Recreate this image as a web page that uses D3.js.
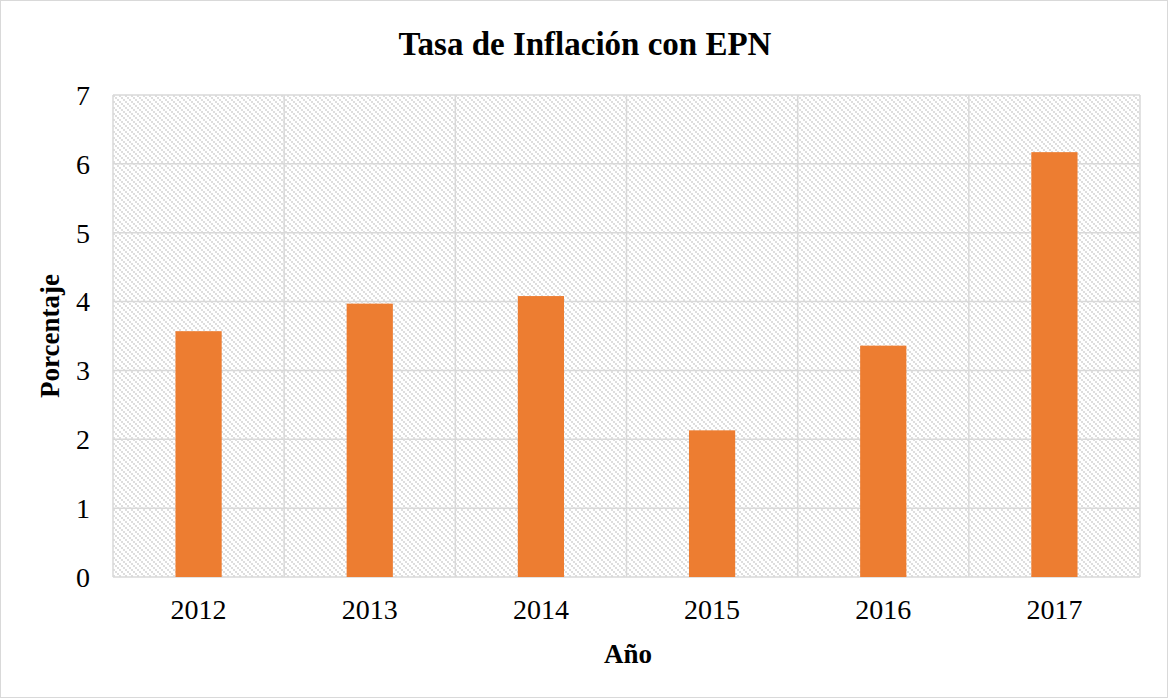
<!DOCTYPE html>
<html>
<head>
<meta charset="utf-8">
<script src="https://cdn.jsdelivr.net/npm/d3@7"></script>
<style>
  body { margin: 0; background: #fff; }
  text { font-family: "Liberation Serif", "Times New Roman", serif; fill: #000; }
</style>
</head>
<body>
<div id="chart"></div>
<script>
// chart data
const years = ["2012", "2013", "2014", "2015", "2016", "2017"];
const inflation = [3.57, 3.97, 4.08, 2.13, 3.36, 6.17];
const yTicks = [0, 1, 2, 3, 4, 5, 6, 7];

const W = 1168, H = 698;
const margin = {top: 95, right: 28, bottom: 121, left: 113};
const width = W - margin.left - margin.right,
    height = H - margin.top - margin.bottom;

const svg = d3.select("#chart")
  .append("svg")
  .attr("width", W)
  .attr("height", H);

// pixel hatch for the plot background (downward diagonal)
const defs = svg.append("defs");
const pat = defs.append("pattern")
  .attr("id", "hatch")
  .attr("patternUnits", "userSpaceOnUse")
  .attr("width", 6)
  .attr("height", 6);
pat.selectAll("rect")
  .data([0, 2, 4])
  .join("rect")
  .attr("x", d => d).attr("y", d => d)
  .attr("width", 2).attr("height", 2)
  .attr("fill", "#dedede")
  .attr("shape-rendering", "crispEdges");

// outer border
svg.append("rect")
  .attr("x", 0.5).attr("y", 0.5)
  .attr("width", W - 1).attr("height", H - 1)
  .attr("fill", "#fff")
  .attr("stroke", "#d9d9d9");

const g = svg.append("g")
  .attr("transform", `translate(${margin.left}, ${margin.top})`);

const x = d3.scaleBand()
  .domain(years)
  .range([0, width])
  .paddingInner(0.73)
  .paddingOuter(0.365);

const y = d3.scaleLinear()
  .domain([0, 7])
  .range([height, 0]);

g.append("rect")
  .attr("width", width)
  .attr("height", height)
  .attr("fill", "url(#hatch)");

// horizontal grid
g.append("g")
  .selectAll("line")
  .data(yTicks)
  .join("line")
  .attr("x1", 0).attr("x2", width)
  .attr("y1", d => y(d)).attr("y2", d => y(d))
  .attr("stroke", "#d9d9d9")
  .attr("stroke-width", 1.5);

// vertical grid at category boundaries
const step = x.step();
g.append("g")
  .selectAll("line")
  .data(d3.range(years.length + 1))
  .join("line")
  .attr("x1", i => i * step).attr("x2", i => i * step)
  .attr("y1", 0).attr("y2", height)
  .attr("stroke", "#d9d9d9")
  .attr("stroke-width", 1.5);

// bars
g.append("g")
  .selectAll("rect")
  .data(years)
  .join("rect")
  .attr("x", d => x(d))
  .attr("width", x.bandwidth())
  .attr("y", (d, i) => y(inflation[i]))
  .attr("height", (d, i) => height - y(inflation[i]))
  .attr("fill", "#ed7d31");

// y tick labels
g.append("g")
  .selectAll("text")
  .data(yTicks)
  .join("text")
  .attr("x", -23)
  .attr("y", d => y(d))
  .attr("dy", "0.35em")
  .attr("text-anchor", "end")
  .style("font-size", "28px")
  .text(d => d);

// x tick labels
g.append("g")
  .selectAll("text")
  .data(years)
  .join("text")
  .attr("x", d => x(d) + x.bandwidth() / 2)
  .attr("y", height + 42)
  .attr("text-anchor", "middle")
  .style("font-size", "28px")
  .text(d => d);

// titles
svg.append("text")
  .attr("x", 585)
  .attr("y", 55)
  .attr("text-anchor", "middle")
  .style("font-size", "33px")
  .style("font-weight", "bold")
  .text("Tasa de Inflación con EPN");

svg.append("text")
  .attr("x", 628)
  .attr("y", 663)
  .attr("text-anchor", "middle")
  .style("font-size", "27px")
  .style("font-weight", "bold")
  .text("Año");

svg.append("text")
  .attr("transform", `translate(59, ${margin.top + height / 2}) rotate(-90)`)
  .attr("text-anchor", "middle")
  .style("font-size", "27px")
  .style("font-weight", "bold")
  .text("Porcentaje");
</script>
</body>
</html>
